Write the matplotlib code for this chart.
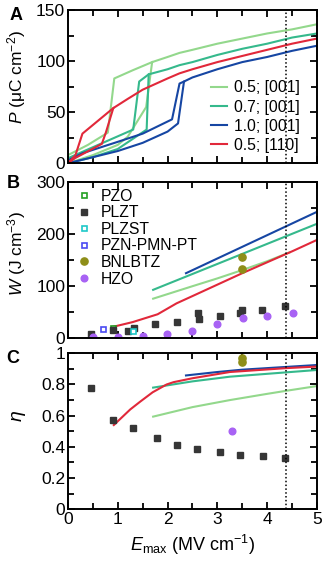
import numpy as np
import matplotlib
matplotlib.use("Agg")
import matplotlib.pyplot as plt


# STYLE

plt.rcParams['font.family'] = ['Liberation Sans', 'DejaVu Sans']
plt.rcParams['mathtext.fontset'] = 'custom'
plt.rcParams['mathtext.rm'] = 'Liberation Sans'
plt.rcParams['mathtext.it'] = 'Liberation Sans:italic'
plt.rcParams['axes.linewidth'] = 1.4

c_lg = '#93d88c'   # 0.5; [001]
c_tl = '#35b98c'   # 0.7; [001]
c_bl = '#1646a3'   # 1.0; [001]
c_rd = '#e1283a'   # 0.5; [110]


# PANEL A DATA  (P-E loops, charge and discharge branches)

lg_charge_E = [0, 0.5, 1.0, 1.2, 1.57, 1.69, 2.0, 2.24, 2.5, 3.0, 3.5, 4.0, 4.5, 5.0]
lg_charge_P = [0, 8, 18, 26, 55, 99, 104, 108, 111, 117, 122, 127, 131, 136]
lg_dis_E = [1.69, 1.3, 0.93, 0.8, 0.4, 0]
lg_dis_P = [99, 91, 83, 30, 18, 8]

tl_charge_E = [0, 0.5, 1.0, 1.58, 1.62, 2.0, 2.24, 2.5, 3.0, 3.5, 4.0, 4.5, 5.0]
tl_charge_P = [0, 6, 14, 33, 87, 92, 96, 99, 106, 112, 117, 123, 127]
tl_dis_E = [1.62, 1.43, 1.31, 0.7, 0]
tl_dis_P = [87, 80, 33, 20, 5]

bl_charge_E = [0, 0.5, 1.0, 1.5, 2.0, 2.21, 2.33, 2.5, 3.0, 3.5, 4.0, 4.5, 5.0]
bl_charge_P = [0, 6, 12, 20, 31, 39, 80, 84, 92, 99, 104, 110, 115]
bl_dis_E = [2.33, 2.24, 2.09, 1.5, 1.0, 0.3, 0]
bl_dis_P = [80, 78, 43, 29, 21, 10, 3]

rd_charge_E = [0, 0.14, 0.68, 0.76, 0.91, 1.2, 1.5, 2.0, 2.24, 2.5, 3.0, 3.5, 4.0, 4.5, 5.0]
rd_charge_P = [0, 5, 19, 30, 54, 63, 72, 83, 88, 92, 99, 105, 111, 117, 122]
rd_dis_E = [0.91, 0.29, 0.15, 0]
rd_dis_P = [54, 29, 8, 0]

loop_labels = ['0.5; [001]', '0.7; [001]', '1.0; [001]', '0.5; [110]']


# PANEL B DATA  (energy density W)

lg_W_E = [1.71, 2.5, 3.0, 3.5, 4.0, 4.45]
lg_W = [75, 99, 114, 130, 147, 164]
tl_W_E = [1.71, 5.0]
tl_W = [92, 219]
bl_W_E = [2.37, 5.0]
bl_W = [124, 242]
rd_W_E = [0.91, 1.3, 1.8, 2.18, 2.5, 3.0, 3.5, 4.0, 4.5, 5.0]
rd_W = [21, 30, 45, 66, 80, 102, 124, 145, 166, 188]

pzo_E, pzo_W = [0.9], [19]
plzt_E = [0.47, 0.9, 1.21, 1.33, 1.75, 2.18, 2.62, 2.63, 3.05, 3.45, 3.5, 3.9, 4.36]
plzt_W = [8, 15, 12, 19, 26, 31, 47, 36, 42, 47, 53, 53, 61]
plzst_E, plzst_W = [1.31], [13]
pzn_E, pzn_W = [0.7], [16]
bnlbtz_E, bnlbtz_W = [3.5, 3.5], [155, 132]
hzo_E = [0.51, 1.01, 1.51, 1.98, 2.5, 3.0, 3.51, 3.99, 4.52]
hzo_W = [1, 2, 4, 7, 13, 26, 37, 42, 47]


# PANEL C DATA  (efficiency eta)

lg_eta_E = [1.71, 2.5, 3.25, 4.0, 4.39, 5.0]
lg_eta = [0.594, 0.655, 0.70, 0.74, 0.76, 0.79]
tl_eta_E = [1.71, 2.5, 3.25, 4.39, 5.0]
tl_eta = [0.78, 0.82, 0.85, 0.878, 0.893]
bl_eta_E = [2.37, 3.0, 3.5, 4.0, 4.5, 5.0]
bl_eta = [0.858, 0.88, 0.895, 0.905, 0.915, 0.925]
rd_eta_E = [0.92, 1.25, 1.45, 1.7, 1.98, 2.12, 2.5, 3.25, 4.39, 5.0]
rd_eta = [0.54, 0.64, 0.69, 0.75, 0.80, 0.815, 0.84, 0.88, 0.905, 0.915]

plzt_eta_E = [0.46, 0.91, 1.31, 1.78, 2.18, 2.6, 3.05, 3.45, 3.92, 4.36]
plzt_eta = [0.78, 0.57, 0.52, 0.456, 0.414, 0.388, 0.367, 0.351, 0.339, 0.326]
hzo_eta_E, hzo_eta = [3.29], [0.504]
bnlbtz_eta_E, bnlbtz_eta = [3.5, 3.5], [0.968, 0.946]

E_limit = 4.38


# FIGURE

fig = plt.figure(figsize=(3.25, 5.66), dpi=100)
axA = fig.add_axes([0.2092, 0.7115, 0.766, 0.2709])
axB = fig.add_axes([0.2092, 0.4034, 0.766, 0.2756])
axC = fig.add_axes([0.2092, 0.1002, 0.766, 0.2756])

lw = 1.5
sq_ms = 4.6
dot_ms = 4.8

# A
for cE, cP, dE, dP, col, lab in [
        (lg_charge_E, lg_charge_P, lg_dis_E, lg_dis_P, c_lg, loop_labels[0]),
        (tl_charge_E, tl_charge_P, tl_dis_E, tl_dis_P, c_tl, loop_labels[1]),
        (bl_charge_E, bl_charge_P, bl_dis_E, bl_dis_P, c_bl, loop_labels[2]),
        (rd_charge_E, rd_charge_P, rd_dis_E, rd_dis_P, c_rd, loop_labels[3])]:
    axA.plot(cE, cP, color=col, lw=lw, label=lab)
    axA.plot(dE, dP, color=col, lw=lw)

axA.set_ylim(0, 150)
axA.set_yticks([0, 50, 100, 150])
axA.set_yticks([25, 75, 125], minor=True)
axA.set_ylabel(r'$\it{P}$ (μC cm$^{-2}$)', fontsize=12.5)
axA.legend(loc='upper left', bbox_to_anchor=(0.575, 0.54), frameon=False,
           fontsize=11.3, handlelength=1.0, handletextpad=0.45,
           labelspacing=0.26, borderpad=0, borderaxespad=0)

# B
axB.plot(lg_W_E, lg_W, color=c_lg, lw=lw)
axB.plot(tl_W_E, tl_W, color=c_tl, lw=lw)
axB.plot(bl_W_E, bl_W, color=c_bl, lw=lw)
axB.plot(rd_W_E, rd_W, color=c_rd, lw=lw)

axB.plot(pzo_E, pzo_W, 's', ms=3.6, mfc='white', mec='#22a022', mew=1.2, ls='none', label='PZO')
axB.plot(plzt_E, plzt_W, 's', ms=sq_ms, color='#363636', ls='none', label='PLZT')
axB.plot(plzst_E, plzst_W, 's', ms=3.6, mfc='white', mec='#1ec8c8', mew=1.2, ls='none', label='PLZST')
axB.plot(pzn_E, pzn_W, 's', ms=3.6, mfc='white', mec='#4a4af2', mew=1.2, ls='none', label='PZN-PMN-PT')
axB.plot(bnlbtz_E, bnlbtz_W, 'o', ms=5.2, color='#8e8e18', ls='none', label='BNLBTZ')
axB.plot(hzo_E, hzo_W, 'o', ms=dot_ms, color='#a862f4', ls='none', label='HZO')

axB.set_ylim(0, 300)
axB.set_yticks([0, 100, 200, 300])
axB.set_yticks([50, 150, 250], minor=True)
axB.set_ylabel(r'$\it{W}$ (J cm$^{-3}$)', fontsize=12.5)
axB.legend(loc='upper left', bbox_to_anchor=(0.045, 0.955), frameon=False,
           fontsize=11.3, handlelength=0.6, handletextpad=0.75,
           labelspacing=0.1, borderpad=0, borderaxespad=0)

# C
axC.plot(lg_eta_E, lg_eta, color=c_lg, lw=lw)
axC.plot(tl_eta_E, tl_eta, color=c_tl, lw=lw)
axC.plot(bl_eta_E, bl_eta, color=c_bl, lw=lw)
axC.plot(rd_eta_E, rd_eta, color=c_rd, lw=lw)
axC.plot(plzt_eta_E, plzt_eta, 's', ms=sq_ms, color='#363636', ls='none')
axC.plot(hzo_eta_E, hzo_eta, 'o', ms=dot_ms, color='#a862f4', ls='none')
axC.plot(bnlbtz_eta_E, bnlbtz_eta, 'o', ms=5.2, color='#8e8e18', ls='none')

axC.set_ylim(0, 1)
axC.set_yticks([0, 0.2, 0.4, 0.6, 0.8, 1.0])
axC.set_yticklabels(['0', '0.2', '0.4', '0.6', '0.8', '1'])
axC.set_yticks(np.arange(0.1, 1.0, 0.2), minor=True)
axC.set_ylabel(r'$\eta$', fontsize=14)
axC.set_xlabel(r'$\it{E}_{\rm max}$ (MV cm$^{-1}$)', fontsize=13)

# shared styling
for ax in (axA, axB, axC):
    ax.axvline(E_limit, color='black', ls=(0, (1, 1.5)), lw=1.1)
    ax.set_xlim(0, 5)
    ax.set_xticks([0, 1, 2, 3, 4, 5])
    ax.set_xticks([0.5, 1.5, 2.5, 3.5, 4.5], minor=True)
    ax.tick_params(which='both', direction='in', top=True, right=True,
                   width=1.3, labelsize=12.5, pad=2)
    ax.tick_params(which='major', length=5)
    ax.tick_params(which='minor', length=4.5)
for ax in (axA, axB):
    ax.tick_params(labelbottom=False)

axA.yaxis.set_label_coords(-0.16, 0.56)
axB.yaxis.set_label_coords(-0.16, 0.54)
axC.yaxis.set_label_coords(-0.16, 0.60)

# panel letters
fig.text(0.03, 0.988, 'A', fontsize=13, fontweight='bold', va='top', ha='left')
fig.text(0.02, 0.691, 'B', fontsize=13, fontweight='bold', va='top', ha='left')
fig.text(0.02, 0.382, 'C', fontsize=13, fontweight='bold', va='top', ha='left')

fig.savefig('out.png', dpi=100)
